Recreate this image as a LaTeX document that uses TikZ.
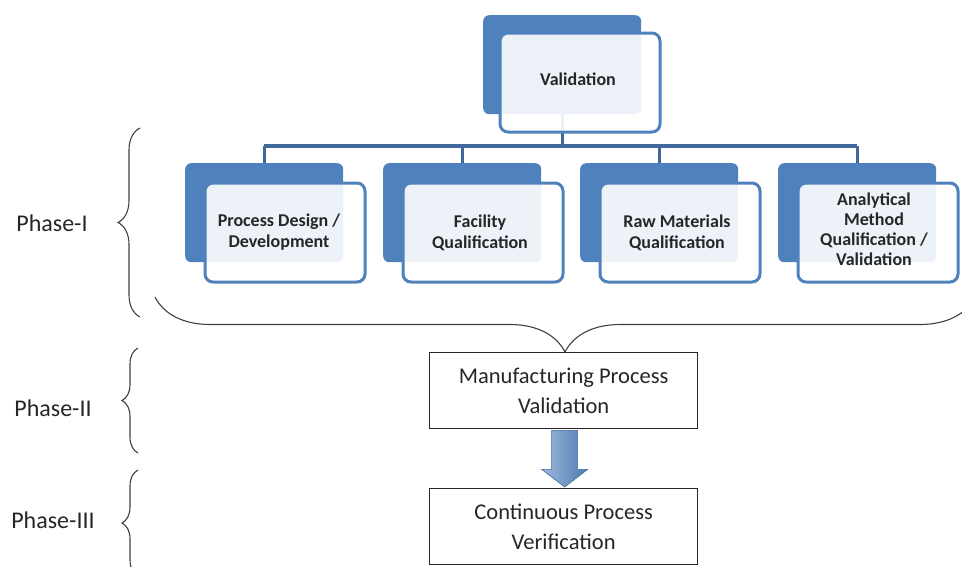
\documentclass[tikz,border=0pt]{standalone}
\usepackage{fontspec}
\setmainfont{Carlito}
\usetikzlibrary{decorations.pathreplacing,calc}
\definecolor{bblue}{HTML}{4F81BD}
\definecolor{cblue}{HTML}{41689C}
\definecolor{txt}{HTML}{262626}
\definecolor{brc}{HTML}{404040}
\tikzset{
  backbox/.style={fill=bblue, rounded corners=6pt, minimum width=158pt, minimum height=99pt, anchor=north west, inner sep=0pt},
  frontbox/.style={draw=bblue, line width=3pt, fill=white, fill opacity=0.9, rounded corners=8pt, minimum width=160pt, minimum height=99pt, anchor=north west, inner sep=0pt},
  boxtext/.style={font=\bfseries\fontsize{18}{21}\selectfont, align=center, text=txt},
  conn/.style={draw=cblue, line width=3.2pt},
  plainbox/.style={draw=black!85, line width=1.3pt, minimum width=268pt, minimum height=76pt, anchor=north west, inner sep=0pt, font=\fontsize{22.5}{30}\selectfont, align=center, text=txt},
  phase/.style={font=\fontsize{24}{28}\selectfont, text=txt},
  bracestyle/.style={draw=brc, line width=1.1pt, decorate},
}
\begin{document}
\begin{tikzpicture}[x=1pt,y=-1pt]
\useasboundingbox (0,0) rectangle (962,566);
\clip (0,0) rectangle (962,566);
% back boxes
\node[backbox] (vb) at (483,15) {};
\node[backbox] (b1) at (185,163) {};
\node[backbox] (b2) at (383,163) {};
\node[backbox] (b3) at (580,163) {};
\node[backbox] (b4) at (778,163) {};
% connectors
\coordinate (hy) at (0,146);
\draw[conn] (vb.south) -- (vb.south |- hy);
\draw[conn] (b1.north |- hy) -- (b4.north |- hy);
\draw[conn] (b1.north |- hy) -- (b1.north);
\draw[conn] (b2.north |- hy) -- (b2.north);
\draw[conn] (b3.north |- hy) -- (b3.north);
\draw[conn] (b4.north |- hy) -- (b4.north);
% front boxes
\node[frontbox] (vf) at (498.5,31.5) {};
\node[frontbox] (f1) at (203.5,181.5) {};
\node[frontbox] (f2) at (401.5,181.5) {};
\node[frontbox] (f3) at (598.5,181.5) {};
\node[frontbox] (f4) at (796.5,181.5) {};
% texts
\node[boxtext] (vt) at ($(vf.center)+(-2,-3)$) {Validation};
\node[boxtext] (t1) at ($(f1.center)+(-6,0)$) {Process Design /\\Development};
\node[boxtext] (t2) at ($(f2.center)+(-3,0)$) {Facility\\Qualification};
\node[boxtext] (t3) at ($(f3.center)+(-3,0)$) {Raw Materials\\Qualification};
\node[boxtext, font=\bfseries\fontsize{18}{20}\selectfont] (t4) at ($(f4.center)+(-4,-3)$) {Analytical\\Method\\Qualification /\\Validation};
% lower boxes
\node[plainbox] (mpv) at (429,352) {Manufacturing Process\\Validation};
\node[plainbox] (cpv) at (429,488) {Continuous Process\\Verification};
% block arrow
\shade[left color=bblue!55, right color=bblue!95!black, draw=bblue!80!black, line width=0.6pt]
  ($(mpv.south)+(-12,1)$) -- ($(mpv.south)+(14,1)$) -- ($(mpv.south)+(14,40)$) -- ($(mpv.south)+(24,40)$)
  -- ($(cpv.north)+(1,-1)$) -- ($(mpv.south)+(-22,40)$) -- ($(mpv.south)+(-12,40)$) -- cycle;
% braces
\coordinate (bl) at (155,297);
\coordinate (br) at (975,297);
\draw[bracestyle, decoration={brace, amplitude=55pt}] (br) -- (bl);
\coordinate (p1t) at (140,128);
\coordinate (p1b) at (140,317);
\draw[bracestyle, decoration={brace, amplitude=22pt}] (p1b) -- (p1t);
\coordinate (p2t) at (138,348);
\coordinate (p2b) at (138,453);
\draw[bracestyle, decoration={brace, amplitude=16pt}] (p2b) -- (p2t);
\coordinate (p3t) at (138,470);
\coordinate (p3b) at (138,576);
\draw[bracestyle, decoration={brace, amplitude=16pt}] (p3b) -- (p3t);
% phase labels
\node[phase] (ph1) at (52,223) {Phase-I};
\node[phase] (ph2) at (53,408) {Phase-II};
\node[phase] (ph3) at (53,520) {Phase-III};
\end{tikzpicture}
\end{document}
